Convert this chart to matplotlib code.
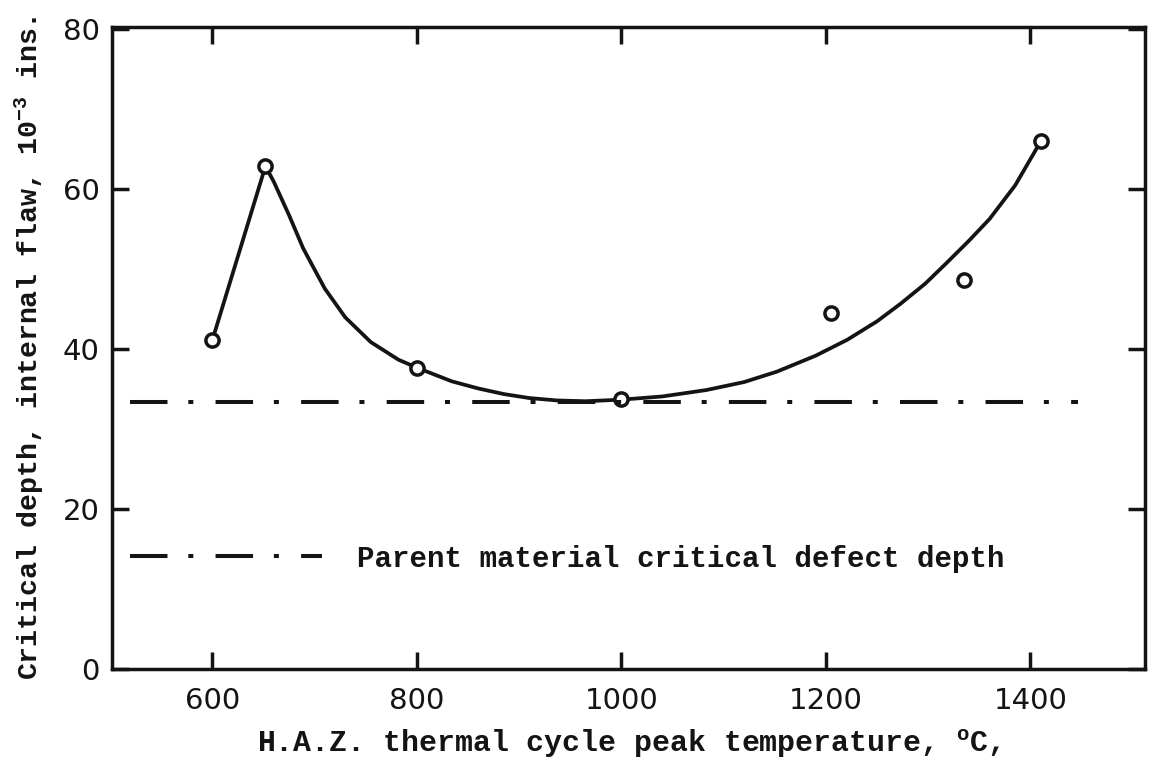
import matplotlib
matplotlib.use('Agg')
import matplotlib.pyplot as plt

# typewriter style text, sans digits on the ticks
plt.rcParams['font.family'] = ['Liberation Mono', 'DejaVu Sans']
plt.rcParams['font.weight'] = 'bold'
plt.rcParams['mathtext.fontset'] = 'custom'
plt.rcParams['mathtext.rm'] = 'Liberation Mono:bold'
plt.rcParams['mathtext.it'] = 'Liberation Mono:bold'
plt.rcParams['lines.scale_dashes'] = False

INK = '#141414'

# measured points: peak temperature (C) vs critical depth (1e-3 in)
temp_pts = [600, 652, 800, 1000, 1205, 1335, 1410]
depth_pts = [41.1, 62.9, 37.7, 33.8, 44.5, 48.7, 66.0]

# hand-drawn trend line through the points
curve_temp = [600, 652, 660, 675, 689, 710, 730, 755, 782, 800, 834, 860,
              885, 910, 937, 965, 1000, 1040, 1083, 1120, 1152, 1190, 1221,
              1250, 1273, 1297, 1318, 1340, 1360, 1385, 1410]
curve_depth = [41.1, 62.9, 61.0, 56.8, 52.6, 47.6, 44.0, 40.9, 38.7, 37.7,
               36.0, 35.1, 34.4, 33.9, 33.6, 33.5, 33.7, 34.1, 34.9, 35.9,
               37.2, 39.2, 41.2, 43.5, 45.7, 48.2, 50.8, 53.6, 56.3, 60.5,
               66.0]

# parent material reference level
parent_temp = [520, 1446]
parent_depth = [33.4, 33.4]

x_ticks = [600, 800, 1000, 1200, 1400]
y_ticks = [0, 20, 40, 60, 80]

fig = plt.figure(figsize=(11.5, 7.78), dpi=100)
ax = fig.add_axes([0.0974, 0.140, 0.8983, 0.8252])

ax.plot(curve_temp, curve_depth, color=INK, lw=2.7, solid_capstyle='round',
        solid_joinstyle='round')
ax.plot(temp_pts, depth_pts, 'o', ms=9.5, mfc='white', mec=INK, mew=2.5)
ax.plot(parent_temp, parent_depth, color=INK, lw=2.9,
        ls=(0, (27, 15, 3.6, 16)),
        label='Parent material critical defect depth')

ax.set_xlim(502, 1512)
ax.set_ylim(0, 80.3)
ax.set_xticks(x_ticks)
ax.set_yticks(y_ticks)

for side in ax.spines.values():
    side.set_linewidth(2.5)
    side.set_color(INK)

ax.tick_params(direction='in', top=True, right=True, length=12, width=2.5,
               color=INK, labelsize=21)
ax.tick_params(axis='x', pad=13)
ax.tick_params(axis='y', pad=9)
for lab in ax.get_xticklabels() + ax.get_yticklabels():
    lab.set_family('DejaVu Sans')
    lab.set_weight('normal')
    lab.set_color(INK)

ax.set_xlabel(r'H.A.Z. thermal cycle peak temperature, $^{\mathrm{o}}$C,',
              fontsize=21.5, fontweight='bold', color=INK, labelpad=9)
ax.set_ylabel(r'Critical depth, internal flaw, 10$^{\mathrm{-3}}$ ins.',
              fontsize=20.3, fontweight='bold', color=INK, labelpad=12)

ax.legend(loc='center left', bbox_to_anchor=(0.017, 0.172), frameon=False,
          prop={'size': 21, 'weight': 'bold'}, handlelength=6.6,
          handletextpad=1.2, borderpad=0, borderaxespad=0, labelcolor=INK)

fig.savefig('out.png', dpi=100, facecolor='white')
